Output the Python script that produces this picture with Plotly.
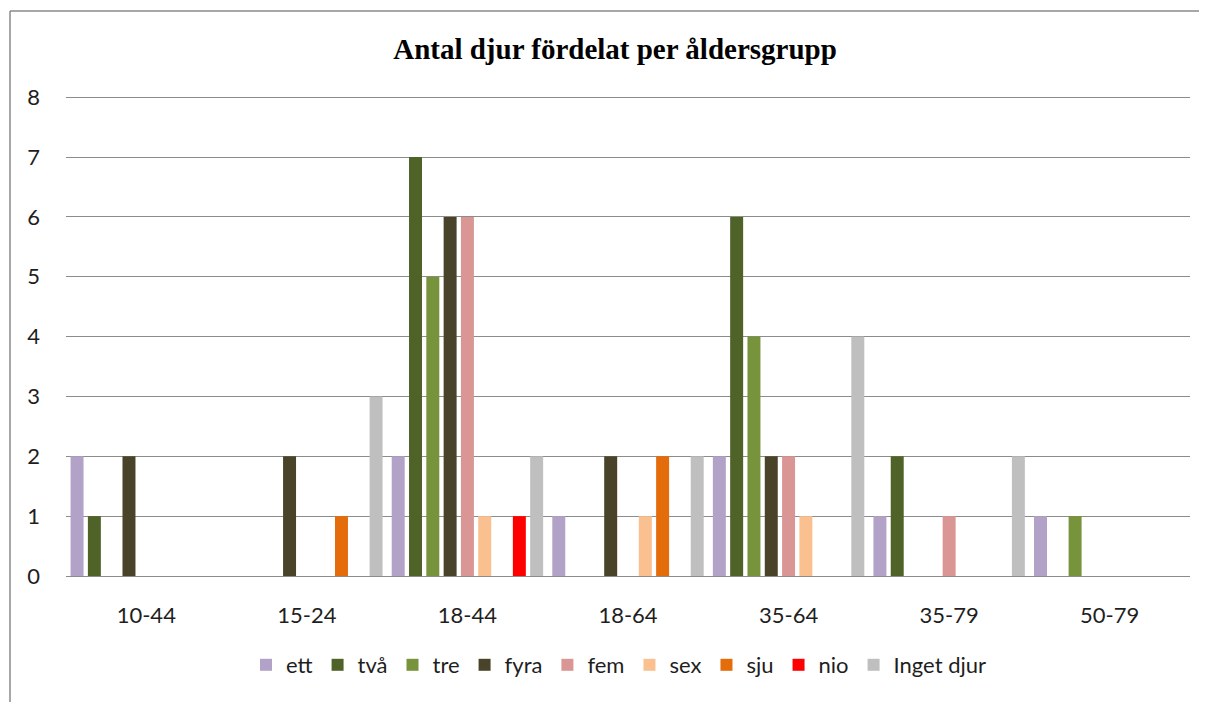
import plotly.graph_objects as go

categories = ["10-44", "15-24", "18-44", "18-64", "35-64", "35-79", "50-79"]
series_names = ["ett", "två", "tre", "fyra", "fem", "sex", "sju", "nio", "Inget djur"]
ett = [2, 0, 2, 1, 2, 1, 1]
tva = [1, 0, 7, 0, 6, 2, 0]
tre = [0, 0, 5, 0, 4, 0, 1]
fyra = [2, 2, 6, 2, 2, 0, 0]
fem = [0, 0, 6, 0, 2, 1, 0]
sex = [0, 0, 1, 1, 1, 0, 0]
sju = [0, 1, 0, 2, 0, 0, 0]
nio = [0, 0, 1, 0, 0, 0, 0]
inget = [0, 3, 2, 2, 4, 2, 0]
colors = ["#b3a2c7", "#4f6228", "#77933c", "#494429", "#d99694",
          "#fac090", "#e46c0a", "#ff0000", "#bfbfbf"]
y_ticks = [0, 1, 2, 3, 4, 5, 6, 7, 8]

all_values = [ett, tva, tre, fyra, fem, sex, sju, nio, inget]

fig = go.Figure()
for name, vals, col in zip(series_names, all_values, colors):
    fig.add_trace(go.Bar(x=categories, y=vals, name=name,
                         marker=dict(color=col, line=dict(width=0))))

# page body has an 8px margin; express targets in page pixels, convert to figure pixels
OFF = 8
W, H = 1207 - OFF, 702 - OFF
ml = 66 - OFF
mt = 96 - OFF
plot_right = 1190 - OFF
plot_bottom = 576 - OFF
mr = W - plot_right
mb = H - plot_bottom
pw, ph = W - ml - mr, H - mt - mb

def px_x(p):
    return (p - OFF - ml) / pw

def px_y(p):
    return (plot_bottom - (p - OFF)) / ph

fig.update_layout(
    width=W, height=H,
    margin=dict(l=ml, r=mr, t=mt, b=mb),
    plot_bgcolor="white", paper_bgcolor="white",
    barmode="group", bargap=0.03, bargroupgap=0.25,
    title=dict(text="<b>Antal djur fördelat per åldersgrupp</b>", x=px_x(615), xref="paper",
               xanchor="center", y=1 - (49 - OFF) / H, yanchor="middle",
               font=dict(family="Liberation Serif", size=29, color="#000")),
    font=dict(family="Lato", size=22, color="#1e1e1e"),
    xaxis=dict(showgrid=False, showline=False, ticks="", tickfont=dict(size=22),
               ticklabelstandoff=24),
    yaxis=dict(range=[0, 8.02], tickvals=y_ticks, showgrid=True, gridcolor="#8c8c8c", gridwidth=1,
               zeroline=True, zerolinecolor="#8c8c8c", zerolinewidth=1, showline=False,
               ticks="", tickfont=dict(size=22), ticklabelstandoff=25),
    legend=dict(orientation="h", x=px_x(619), xanchor="center", y=px_y(665), yanchor="middle",
                font=dict(size=22), itemwidth=30, traceorder="normal"),
    shapes=[
        dict(type="line", xref="paper", yref="paper", x0=px_x(10), x1=px_x(10),
             y0=px_y(11), y1=px_y(720), line=dict(color="#8a8a8a", width=1.5)),
        dict(type="line", xref="paper", yref="paper", x0=px_x(10), x1=px_x(1230),
             y0=px_y(11), y1=px_y(11), line=dict(color="#8a8a8a", width=1.5)),
    ],
)

fig.write_html("out.html")
